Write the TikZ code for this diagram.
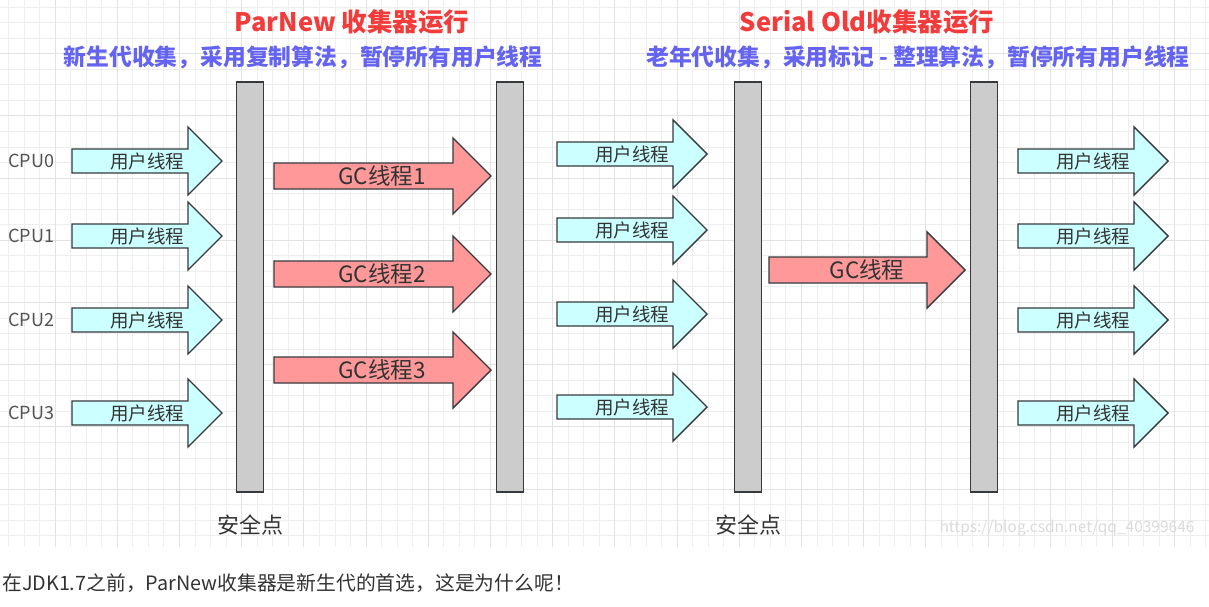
\documentclass[tikz,border=0pt]{standalone}
\usepackage{fontspec}
\setmainfont{Noto Sans CJK SC}
\definecolor{gridminor}{HTML}{EEEEEE}
\definecolor{gridmajor}{HTML}{E2E2E2}
\definecolor{titlered}{HTML}{F23C3C}
\definecolor{subblue}{HTML}{6464F0}
\definecolor{userfill}{HTML}{CCFFFF}
\definecolor{gcfill}{HTML}{FF9999}
\definecolor{barfill}{HTML}{CCCCCC}
\definecolor{edge}{HTML}{36393D}
\definecolor{txt}{HTML}{333333}
\newcommand\fatarrow[7]{%
  \filldraw[#1] (#2,{#4-#5}) -- ({#3-#7},{#4-#5}) -- ({#3-#7},{#4-#6}) -- (#3,#4)
    -- ({#3-#7},{#4+#6}) -- ({#3-#7},{#4+#5}) -- (#2,{#4+#5}) -- cycle;}
\begin{document}
\begin{tikzpicture}[x=1pt,y=-1pt,
  minorline/.style={draw=gridminor,line width=0.8pt},
  majorline/.style={draw=gridmajor,line width=0.9pt},
  spbar/.style={draw=edge,fill=barfill,line width=1.6pt,minimum width=27pt,minimum height=410pt,inner sep=0pt},
  userarrow/.style={draw=edge,fill=userfill,line width=1.4pt,line join=miter},
  gcarrow/.style={draw=edge,fill=gcfill,line width=1.4pt,line join=miter},
  utext/.style={text=txt,font=\fontsize{18.5}{21}\selectfont,inner sep=0pt},
  gctext/.style={text=txt,font=\fontsize{22.5}{26}\selectfont,inner sep=0pt},
  cpulabel/.style={text=txt!85,font=\fontsize{18}{21}\selectfont,anchor=west,inner sep=0pt},
  titletext/.style={text=titlered,font=\bfseries\fontsize{25.5}{29}\selectfont,inner sep=0pt},
  subtext/.style={text=subblue,font=\bfseries\fontsize{22.8}{27}\selectfont,inner sep=0pt},
  safetext/.style={text=txt,font=\fontsize{22}{25}\selectfont,inner sep=0pt},
]
\useasboundingbox (0,0) rectangle (1209,607);
\fill[white] (0,0) rectangle (1209,607);
% grid
\foreach \k in {-3,...,74} { \draw[minorline] ({55+15.55*\k},0) -- ({55+15.55*\k},547); }
\foreach \k in {-3,...,31} { \draw[minorline] (0,{489-15.55*\k}) -- (1209,{489-15.55*\k}); }
\foreach \k in {-4,0,...,72} { \draw[majorline] ({55+15.55*\k},0) -- ({55+15.55*\k},547); }
\foreach \k in {0,4,...,28} { \draw[majorline] (0,{489-15.55*\k}) -- (1209,{489-15.55*\k}); }

% titles
\node[titletext] (t1) at (352,22) {ParNew 收集器运行};
\node[subtext] (s1) at (303,57) {新生代收集，采用复制算法，暂停所有用户线程};
\node[titletext] (t2) at (867,22) {Serial Old收集器运行};
\node[subtext] (s2) at (918,57) {老年代收集，采用标记 - 整理算法，暂停所有用户线程};

% safe-point bars
\node[spbar] (sp1) at (250,287) {};
\node[spbar] (sp2) at (510,287) {};
\node[spbar] (sp3) at (748,287) {};
\node[spbar] (sp4) at (984,287) {};

% CPU labels
\node[cpulabel] (cpu0) at (8,161) {CPU0};
\node[cpulabel] (cpu1) at (8,236) {CPU1};
\node[cpulabel] (cpu2) at (8,320) {CPU2};
\node[cpulabel] (cpu3) at (8,413) {CPU3};

% left user threads
\foreach \y/\n in {161/u0,236/u1,320/u2,413/u3} {
  \fatarrow{userarrow}{72}{222}{\y}{12}{34}{34}
  \node[utext] (\n) at (147,\y) {用户线程};
}
% GC threads (ParNew)
\foreach \y/\n/\t in {176/gc1/1,274/gc2/2,370/gc3/3} {
  \fatarrow{gcarrow}{274}{491}{\y}{13}{38}{38}
  \node[gctext] (\n) at (382,\y) {GC线程\t};
}
% middle user threads
\foreach \y/\n in {154/m0,230/m1,314/m2,407/m3} {
  \fatarrow{userarrow}{557}{707}{\y}{12}{34}{34}
  \node[utext] (\n) at (632,\y) {用户线程};
}
% GC thread (Serial Old)
\fatarrow{gcarrow}{769}{965}{270}{13}{38}{38}
\node[gctext] (gc) at (867,270) {GC线程};
% right user threads
\foreach \y/\n in {161/r0,236/r1,320/r2,413/r3} {
  \fatarrow{userarrow}{1018}{1168}{\y}{12}{34}{34}
  \node[utext] (\n) at (1093,\y) {用户线程};
}

% safe point labels
\node[safetext] (safe1) at (250,525) {安全点};
\node[safetext] (safe2) at (748,525) {安全点};
% watermark
\node[text=black!14,font=\fontsize{15.5}{18}\selectfont,inner sep=0pt] (wm) at (1067,528) {https://blog.csdn.net/qq\_40399646};
% note
\node[text=txt,font=\fontsize{19.8}{24}\selectfont,anchor=west,inner sep=0pt] (note) at (2,583) {在JDK1.7之前，ParNew收集器是新生代的首选，这是为什么呢！};
\end{tikzpicture}
\end{document}
